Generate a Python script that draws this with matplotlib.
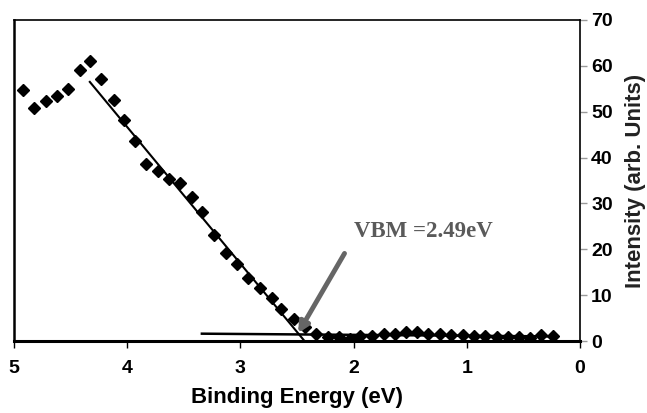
import numpy as np
import matplotlib
matplotlib.use("Agg")
import matplotlib.pyplot as plt

# datos (energia de enlace en eV, intensidad)
energia = [4.92, 4.82, 4.72, 4.62, 4.52, 4.42, 4.33, 4.23, 4.12, 4.03,
           3.93, 3.83, 3.73, 3.63, 3.53, 3.43, 3.34, 3.23, 3.13, 3.03,
           2.93, 2.83, 2.72, 2.64, 2.53, 2.43, 2.33, 2.23, 2.13, 2.03,
           1.94, 1.84, 1.73, 1.63, 1.54, 1.44, 1.34, 1.24, 1.14, 1.03,
           0.94, 0.84, 0.73, 0.64, 0.54, 0.44, 0.34, 0.24]
intensidad = [54.7, 50.9, 52.4, 53.4, 54.9, 59.0, 61.0, 57.2, 52.5, 48.3,
              43.6, 38.7, 37.1, 35.3, 34.4, 31.5, 28.1, 23.1, 19.3, 16.8,
              13.7, 11.6, 9.3, 6.9, 4.9, 3.1, 1.5, 0.9, 0.9, 0.4,
              1.1, 1.1, 1.5, 1.6, 2.0, 2.0, 1.6, 1.6, 1.3, 1.3,
              1.2, 1.1, 0.9, 0.8, 0.8, 0.6, 1.4, 1.0]

# rectas de ajuste (borde y fondo)
ajuste_x = [4.33, 2.44]
ajuste_y = [56.5, 0.2]
fondo_x = [3.34, 0.22]
fondo_y = [1.6, 1.0]

vbm = 2.49

fig = plt.figure(figsize=(6.47, 4.13), dpi=100)
ax = fig.add_axes([0.0216, 0.1743, 0.8748, 0.7773])

ax.plot(energia, intensidad, "D", color="black", markersize=5.8, linestyle="none")
ax.plot(ajuste_x, ajuste_y, color="black", lw=1.5)
ax.plot(fondo_x, fondo_y, color="black", lw=1.8)

ax.annotate("", xy=(vbm, 1.7), xytext=(2.08, 19.1),
            arrowprops=dict(arrowstyle="-|>,head_length=0.6,head_width=0.3",
                            color="#666666", lw=3.5, shrinkA=0, shrinkB=0))
ax.text(2.0, 23.8, "VBM =2.49eV", color="#5a5a5a", fontsize=16.5,
        fontweight="bold", family="Liberation Serif", va="center", ha="left")

ax.set_xlim(5, 0)
ax.set_ylim(0, 70)
ax.set_xticks([5, 4, 3, 2, 1, 0])
ax.set_yticks(np.arange(0, 71, 10))
ax.yaxis.tick_right()
ax.yaxis.set_label_position("right")
ax.tick_params(axis="x", direction="out", length=5, width=1, pad=9, labelsize=14)
ax.tick_params(axis="y", direction="out", length=5, width=1, pad=3, labelsize=14,
               colors="#999999", labelcolor="black")
for lab in ax.get_xticklabels() + ax.get_yticklabels():
    lab.set_fontweight("bold")
    lab.set_family("Liberation Sans")

for s in ax.spines.values():
    s.set_linewidth(1.2)
ax.spines["bottom"].set_linewidth(2.2)
ax.spines["left"].set_linewidth(1.8)

ax.set_xlabel("Binding Energy (eV)", fontsize=16, fontweight="bold",
              family="Liberation Sans", labelpad=7)
ax.set_ylabel("Intensity (arb. Units)", fontsize=16, fontweight="bold",
              family="Liberation Sans", labelpad=9, color="#222222")

fig.savefig("out.png", dpi=100)
